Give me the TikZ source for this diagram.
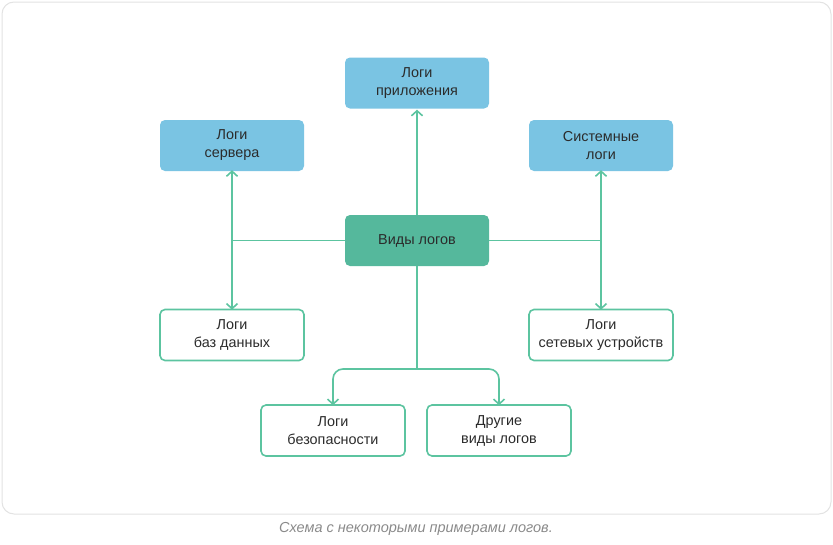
\documentclass[tikz,border=0pt]{standalone}
\usepackage{fontspec}
\setmainfont{Liberation Sans}
\usetikzlibrary{arrows.meta}
\definecolor{linegreen}{HTML}{5CC4A0}
\definecolor{bluefill}{HTML}{7AC4E3}
\definecolor{tealfill}{HTML}{55B89C}
\definecolor{txt}{HTML}{2B2B2B}
\definecolor{cardborder}{HTML}{E3E3E3}
\definecolor{captxt}{HTML}{8A8A8A}
\tikzset{
  box/.style={rounded corners=5pt, minimum width=144pt, minimum height=51pt, align=center,
    font=\fontsize{14.4}{18}\selectfont, text=txt, inner sep=0pt},
  bluebox/.style={box, fill=bluefill},
  centerbox/.style={box, fill=tealfill},
  whitebox/.style={box, draw=linegreen, line width=1.6pt, fill=white},
  conn/.style={draw=linegreen, line width=1.6pt},
  arr/.style={conn, -{Straight Barb[length=5pt,width=11pt,line width=1.6pt]}},
  darr/.style={conn, {Straight Barb[length=5pt,width=11pt,line width=1.6pt]}-{Straight Barb[length=5pt,width=11pt,line width=1.6pt]}}
}
\begin{document}
\begin{tikzpicture}[x=1pt,y=-1pt]
\useasboundingbox (0,0) rectangle (833,544);
\draw[cardborder, line width=1pt, rounded corners=12pt, fill=white] (2,2) rectangle (831,514);
\node[font=\fontsize{14.5}{17}\selectfont\itshape, text=captxt] (cap) at (416,529) {Схема с некоторыми примерами логов.};

\node[bluebox] (app) at (417,83) {\raisebox{-1.5pt}{\parbox{140pt}{\centering Логи\\приложения}}};
\node[bluebox] (srv) at (232,145.5) {\raisebox{-1.5pt}{\parbox{140pt}{\centering Логи\\сервера}}};
\node[bluebox] (sys) at (601,145.5) {\raisebox{-1.5pt}{\parbox{140pt}{\centering Системные\\логи}}};
\node[centerbox] (ctr) at (417,240.5) {Виды логов};
\node[whitebox] (db) at (232,335) {\raisebox{-1.5pt}{\parbox{140pt}{\centering Логи\\баз данных}}};
\node[whitebox] (net) at (601,335) {\raisebox{-1.5pt}{\parbox{140pt}{\centering Логи\\сетевых устройств}}};
\node[whitebox] (sec) at (333,430.5) {\raisebox{-1.5pt}{\parbox{140pt}{\centering Логи\\безопасности}}};
\node[whitebox] (oth) at (499,430.5) {\raisebox{-1.5pt}{\parbox{140pt}{\centering Другие\\виды логов}}};

\coordinate (lj) at (srv.south |- ctr.west);
\coordinate (rj) at (sys.south |- ctr.east);
\coordinate (bj) at (417,369);

\draw[arr] (ctr.north) -- ([yshift=-1pt]app.south);
\draw[conn] (ctr.west) -- (lj);
\draw[conn] (ctr.east) -- (rj);
\draw[darr] ([yshift=1pt]srv.south) -- ([yshift=-1pt]db.north);
\draw[darr] ([yshift=1pt]sys.south) -- ([yshift=-1pt]net.north);
\draw[conn] (ctr.south) -- (bj);
\draw[arr, rounded corners=10pt] (bj) -| ([yshift=-1pt]sec.north);
\draw[arr, rounded corners=10pt] (bj) -| ([yshift=-1pt]oth.north);
\end{tikzpicture}
\end{document}
